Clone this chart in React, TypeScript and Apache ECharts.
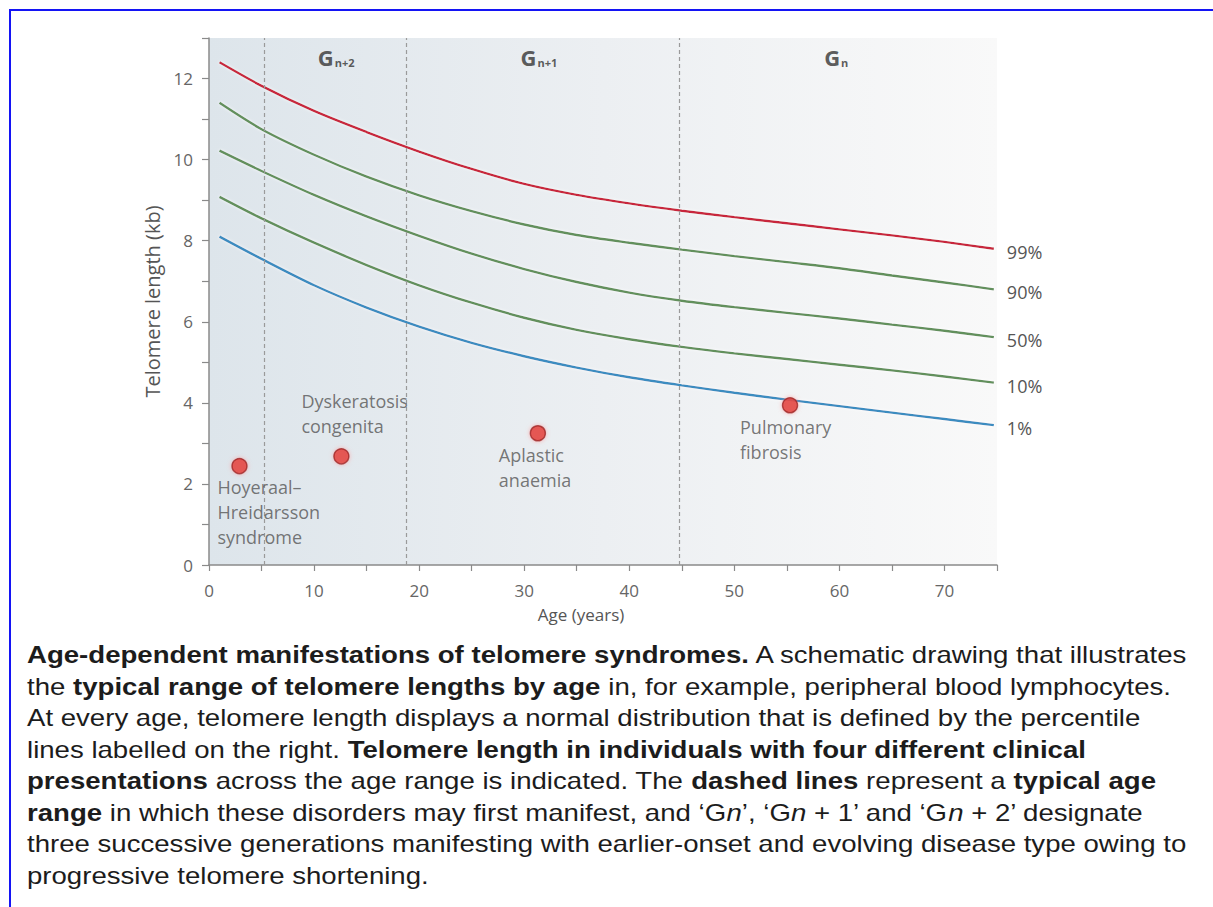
import React, { useEffect, useRef } from "react";
import * as echarts from "echarts";

// ---- data ----
const ages = [1, 5, 10, 15, 20, 25, 30, 35, 40, 45, 50, 55, 60, 65, 70, 74.7];
const p99 = [12.4, 11.82, 11.2, 10.68, 10.2, 9.77, 9.4, 9.13, 8.92, 8.74, 8.58, 8.43, 8.28, 8.13, 7.97, 7.8];
const p90 = [11.4, 10.75, 10.12, 9.58, 9.12, 8.73, 8.4, 8.14, 7.95, 7.78, 7.62, 7.47, 7.32, 7.14, 6.97, 6.8];
const p50 = [10.22, 9.72, 9.13, 8.6, 8.12, 7.68, 7.3, 6.98, 6.72, 6.52, 6.36, 6.22, 6.08, 5.93, 5.78, 5.62];
const p10 = [9.08, 8.55, 7.95, 7.4, 6.9, 6.47, 6.1, 5.8, 5.57, 5.38, 5.22, 5.08, 4.94, 4.8, 4.65, 4.5];
const p1 = [8.1, 7.55, 6.9, 6.35, 5.88, 5.48, 5.15, 4.87, 4.63, 4.43, 4.25, 4.08, 3.92, 3.76, 3.6, 3.45];
const percentileNames = ["99%", "90%", "50%", "10%", "1%"];
const percentileColors = ["#c8283c", "#62905c", "#62905c", "#62905c", "#3a8cc0"];

const syndromeNames = [
  "Hoyeraal–\nHreidarsson\nsyndrome",
  "Dyskeratosis\ncongenita",
  "Aplastic\nanaemia",
  "Pulmonary\nfibrosis",
];
const syndromeAges = [2.9, 12.6, 31.3, 55.3];
const syndromeLengths = [2.44, 2.68, 3.25, 3.94];

const generationBounds = [5.3, 18.8, 44.8];
const generationSubs = ["n+2", "n+1", "n"];
const generationAges = [12.1, 31.4, 59.7];
const generationY = 12.54;

const xTicks = [0, 10, 20, 30, 40, 50, 60, 70];
const yTicks = [0, 2, 4, 6, 8, 10, 12];

const captionLines = [
  "{b|Age-dependent manifestations of telomere syndromes.}{n| A schematic drawing that illustrates}",
  "{n|the }{b|typical range of telomere lengths by age}{n| in, for example, peripheral blood lymphocytes.}",
  "{n|At every age, telomere length displays a normal distribution that is defined by the percentile}",
  "{n|lines labelled on the right. }{b|Telomere length in individuals with four different clinical}",
  "{b|presentations}{n| across the age range is indicated. The }{b|dashed lines}{n| represent a }{b|typical age}",
  "{b|range}{n| in which these disorders may first manifest, and ‘G}{i|n}{n|’, ‘G}{i|n}{n| + 1’ and ‘G}{i|n}{n| + 2’ designate}",
  "{n|three successive generations manifesting with earlier-onset and evolving disease type owing to}",
  "{n|progressive telomere shortening.}",
];

// label placement relative to point (layout, not data)
const syndromeLabelOffsets: [number, number][] = [
  [-22, 8],
  [-40, -68],
  [-39, 9],
  [-50, 9],
];

const FONT = "'Open Sans', 'DejaVu Sans', sans-serif";
const CAP_FONT = "'Liberation Sans', Arial, sans-serif";

export default function App() {
  const ref = useRef<HTMLDivElement>(null);
  useEffect(() => {
    if (!ref.current) return;
    const chart = echarts.init(ref.current, null, { renderer: "svg" });
    const pSeries = [p99, p90, p50, p10, p1];

    const lineSeries: any[] = pSeries.map((vals, i) => ({
      type: "line",
      name: percentileNames[i],
      data: ages.map((a, j) => [a, vals[j]]),
      smooth: 0.3,
      showSymbol: false,
      symbol: "none",
      z: 3,
      lineStyle: {
        color: percentileColors[i],
        width: 2.4,
        shadowColor: "rgba(255,255,255,0.9)",
        shadowBlur: 3,
      },
      endLabel: {
        show: true,
        formatter: "{a}",
        offset: [5, 3],
        color: "#555",
        fontSize: 18,
        fontFamily: FONT,
      },
      markLine:
        i === 0
          ? {
              silent: true,
              symbol: "none",
              label: { show: false },
              lineStyle: { color: "#9a9a9a", type: [4, 3], width: 1.2 },
              data: generationBounds.map((x) => ({ xAxis: x })),
            }
          : undefined,
    }));

    const option: any = {
      animation: false,
      backgroundColor: "#ffffff",
      grid: {
        left: 209,
        right: 216,
        top: 38,
        bottom: 342,
        show: true,
        borderWidth: 0,
        backgroundColor: {
          type: "linear",
          x: 0,
          y: 0,
          x2: 1,
          y2: 0,
          colorStops: [
            { offset: 0, color: "#dde5eb" },
            { offset: 0.5, color: "#eceff2" },
            { offset: 1, color: "#f9f9f9" },
          ],
        },
      },
      xAxis: {
        type: "value",
        min: 0,
        max: 75,
        interval: 5,
        name: "Age (years)",
        nameLocation: "middle",
        nameGap: 41,
        nameTextStyle: { color: "#555", fontSize: 17, fontFamily: FONT, padding: [0, 44, 0, 0] },
        axisLine: { show: true, lineStyle: { color: "#8a8a8a", width: 1.5 } },
        axisTick: { show: true, length: 6, lineStyle: { color: "#8a8a8a", width: 1.2 } },
        axisLabel: {
          color: "#666",
          fontSize: 17,
          fontFamily: FONT,
          margin: 17,
          formatter: (v: number) => (xTicks.includes(v) ? String(v) : ""),
        },
        splitLine: { show: false },
      },
      yAxis: {
        type: "value",
        min: 0,
        max: 13,
        interval: 1,
        name: "Telomere length (kb)",
        nameLocation: "middle",
        nameGap: 44,
        nameTextStyle: { color: "#555", fontSize: 20, fontFamily: FONT },
        axisLine: { show: true, lineStyle: { color: "#8a8a8a", width: 1.5 } },
        axisTick: { show: true, length: 7, lineStyle: { color: "#8a8a8a", width: 1.2 } },
        axisLabel: {
          color: "#666",
          fontSize: 17,
          fontFamily: FONT,
          margin: 16,
          formatter: (v: number) => (yTicks.includes(v) ? String(v) : ""),
        },
        splitLine: { show: false },
      },
      series: [
        ...lineSeries,
        {
          type: "scatter",
          name: "syndromes",
          z: 5,
          symbolSize: 15,
          itemStyle: {
            color: "#e0332c",
            borderColor: "#9c1d1d",
            borderWidth: 1.5,
            shadowColor: "rgba(255,150,150,0.8)",
            shadowBlur: 4,
          },
          data: syndromeAges.map((a, i) => ({
            value: [a, syndromeLengths[i]],
            label: {
              show: true,
              position: "inside",
              align: "left",
              verticalAlign: "top",
              offset: syndromeLabelOffsets[i],
              formatter: syndromeNames[i],
              color: "#555",
              fontSize: 18,
              lineHeight: 25,
              fontFamily: FONT,
            },
          })),
        },
        {
          type: "scatter",
          name: "generations",
          symbolSize: 1,
          itemStyle: { color: "rgba(0,0,0,0)" },
          data: generationAges.map((a) => [a, generationY]),
          label: {
            show: true,
            position: "inside",
            formatter: (p: any) => `{g|G}{s|${generationSubs[p.dataIndex]}}`,
            rich: {
              g: { fontSize: 22, fontWeight: "bold", color: "#333", fontFamily: FONT },
              s: {
                fontSize: 11,
                fontWeight: "bold",
                color: "#333",
                fontFamily: FONT,
                verticalAlign: "bottom",
                padding: [10, 0, 0, 1],
              },
            },
          },
        },
      ],
      graphic: [
        { type: "rect", shape: { x: 9, y: 9, width: 1204, height: 2 }, style: { fill: "#1414f5" }, silent: true },
        { type: "rect", shape: { x: 9, y: 9, width: 2, height: 898 }, style: { fill: "#1414f5" }, silent: true },
        ...captionLines.map((t, i) => ({
          type: "text",
          x: 27,
          y: 655 + i * 31.5,
          scaleX: 1.2,
          silent: true,
          style: {
            text: t,
            verticalAlign: "middle",
            rich: {
              b: { fontSize: 23, fontWeight: "bold", fill: "#1c1c1c", fontFamily: CAP_FONT },
              n: { fontSize: 23, fill: "#1c1c1c", fontFamily: CAP_FONT },
              i: { fontSize: 23, fontStyle: "italic", fill: "#1c1c1c", fontFamily: CAP_FONT },
            },
          },
        })),
      ],
    };
    chart.setOption(option);
    return () => chart.dispose();
  }, []);
  return (
    <div
      ref={ref}
      style={{ position: "absolute", left: 0, top: 0, width: 1213, height: 907 }}
    />
  );
}
